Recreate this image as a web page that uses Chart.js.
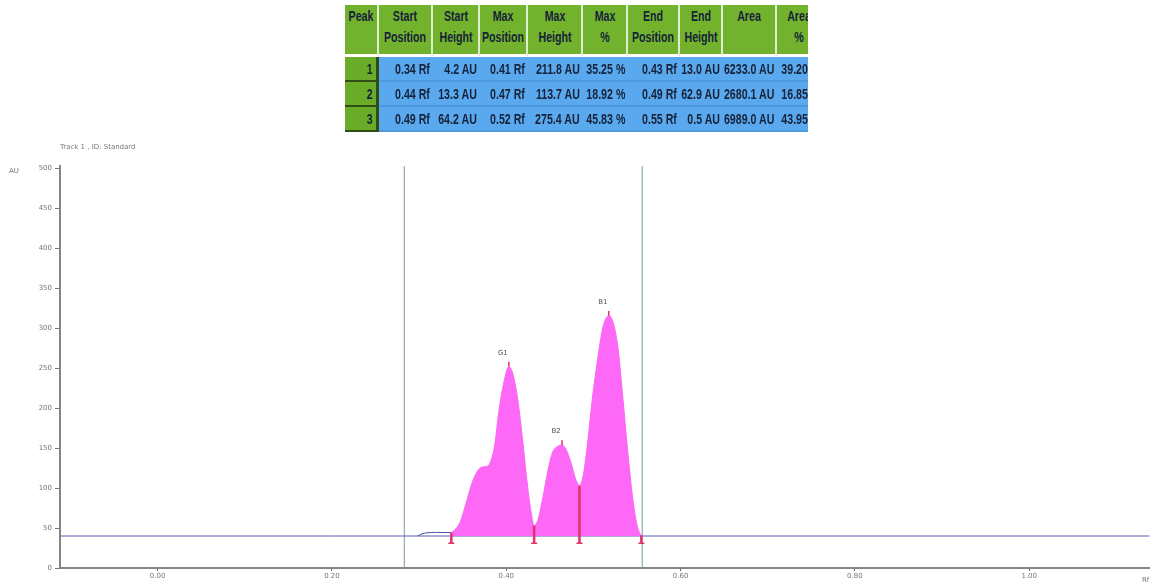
<!DOCTYPE html>
<html>
<head>
<meta charset="utf-8">
<script src="https://cdn.jsdelivr.net/npm/chart.js@4.4.1/dist/chart.umd.min.js"></script>
<style>
  html, body { margin: 0; padding: 0; background: #fff; }
  body { width: 1155px; height: 585px; position: relative; overflow: hidden; }
  #chart { position: absolute; left: 0; top: 0; }
  .lbl { position: absolute; font-family: "DejaVu Sans", sans-serif; font-size: 7px; color: #777; white-space: nowrap; }
  #tblWrap { position: absolute; left: 345px; top: 5px; width: 463px; height: 132px; overflow: hidden; }
  #peakTable { border-collapse: separate; border-spacing: 0; table-layout: fixed;
    font-family: "Liberation Sans", Arial, sans-serif;
    font-weight: bold; font-size: 14px; color: #16223a; }
  #peakTable th { background: #72b22c; height: 49px; padding: 0; position: relative;
    border-right: 2px solid #dfeecf; border-bottom: 3px solid #fff; }
  #peakTable th span { position: absolute; top: 1px; left: 50%; line-height: 21px; text-align: center;
    white-space: nowrap; transform: translateX(-50%) scaleX(0.76); }
  #peakTable td { height: 23px; padding: 0; position: relative;
    background: #5aa9ee; border-bottom: 2px solid #4d9ae0; }
  #peakTable td span { position: absolute; right: 3px; top: 4px; white-space: nowrap;
    transform: scaleX(0.76); transform-origin: right center; }
  #peakTable td.no { background: #6aac28; border-right: 3px solid #2f4d14; border-bottom: 2px solid #2f4d14; }
</style>
</head>
<body>
<canvas id="chart" width="1155" height="585"></canvas>
<div id="tblWrap"><table id="peakTable"></table></div>
<div class="lbl" style="left:60px;top:143px;">Track 1 , ID: Standard</div>
<div class="lbl" style="left:9px;top:167px;">AU</div>
<div class="lbl" style="left:1142px;top:576px;">Rf</div>
<script>
// ---- peak table ----
const tableHeaders = [["Peak"], ["Start", "Position"], ["Start", "Height"], ["Max", "Position"], ["Max", "Height"],
  ["Max", "%"], ["End", "Position"], ["End", "Height"], ["Area"], ["Area", "%"]];
const columnWidths = [34, 54, 47, 48, 55, 45, 52, 43, 54, 46];
const peakNo = [1, 2, 3];
const startPos = [0.34, 0.44, 0.49];
const startHeight = [4.2, 13.3, 64.2];
const maxPos = [0.41, 0.47, 0.52];
const maxHeight = [211.8, 113.7, 275.4];
const maxPct = [35.25, 18.92, 45.83];
const endPos = [0.43, 0.49, 0.55];
const endHeight = [13.0, 62.9, 0.5];
const area = [6233.0, 2680.1, 6989.0];
const areaPct = [39.20, 16.85, 43.95];

// ---- densitogram ----
const baselineAU = 40;
const xRange = [-0.112, 1.138];
const yRange = [0, 502.5];
const xTickValues = [0.0, 0.2, 0.4, 0.6, 0.8, 1.0];
const yTickValues = [0, 50, 100, 150, 200, 250, 300, 350, 400, 450, 500];
const cursorRf = [0.283, 0.556];

// signal before the first integrated zone
const preRf = [0.298, 0.303, 0.309, 0.320, 0.337];
const preAU = [40, 42.5, 44.0, 44.5, 44.2];

// integrated part of the track
const signalRf = [0.337, 0.343, 0.348, 0.352, 0.356, 0.360, 0.3635, 0.369, 0.374, 0.379, 0.383, 0.3865, 0.392, 0.398, 0.403,
  0.4075, 0.413, 0.419, 0.4246, 0.4297, 0.432, 0.436, 0.442, 0.4476, 0.4533, 0.459, 0.464, 0.4687, 0.4744, 0.480, 0.484,
  0.4885, 0.4935, 0.499, 0.505, 0.5107, 0.5176, 0.522, 0.528, 0.5335, 0.539, 0.545, 0.5497, 0.5525, 0.555];
const signalAU = [44.2, 50, 60, 74, 89, 104, 114, 124, 126.5, 127.5, 136, 152, 200, 236, 251.8,
  243, 212, 158, 101, 62, 53.0, 59, 88, 121, 145, 152, 153.7, 148, 131, 110, 102.9,
  117, 158, 214, 262, 300, 315.4, 309, 277, 216, 150, 88, 55, 45, 40.5];

// zone limits (start, valley, valley, end) and peak apexes
const zoneRf = [0.337, 0.432, 0.484, 0.555];
const zoneAU = [44.2, 53.0, 102.9, 40.5];
const zoneFoot = 31;
const peakNames = ["G1", "B2", "B1"];
const peakRf = [0.403, 0.464, 0.5176];
const peakAU = [251.8, 153.7, 315.4];

function fmt(v, d) { return v.toFixed(d); }

// build the table
(function () {
  const t = document.getElementById('peakTable');
  const cg = document.createElement('colgroup');
  columnWidths.forEach(w => { const c = document.createElement('col'); c.style.width = w + 'px'; cg.appendChild(c); });
  t.appendChild(cg);
  t.style.width = columnWidths.reduce((a, b) => a + b, 0) + 'px';
  const hr = document.createElement('tr');
  tableHeaders.forEach(h => {
    const th = document.createElement('th');
    const s = document.createElement('span');
    s.innerHTML = h.join('<br>');
    th.appendChild(s);
    hr.appendChild(th);
  });
  t.appendChild(hr);
  peakNo.forEach((n, i) => {
    const cells = [String(n), fmt(startPos[i], 2) + ' Rf', fmt(startHeight[i], 1) + ' AU', fmt(maxPos[i], 2) + ' Rf',
      fmt(maxHeight[i], 1) + ' AU', fmt(maxPct[i], 2) + ' %', fmt(endPos[i], 2) + ' Rf', fmt(endHeight[i], 1) + ' AU',
      fmt(area[i], 1) + ' AU', fmt(areaPct[i], 2) + ' %'];
    const tr = document.createElement('tr');
    cells.forEach((c, j) => {
      const td = document.createElement('td');
      const s = document.createElement('span');
      s.textContent = c;
      td.appendChild(s);
      if (j === 0) td.className = 'no';
      tr.appendChild(td);
    });
    t.appendChild(tr);
  });
})();

const pts = (xs, ys) => xs.map((x, i) => ({ x: x, y: ys[i] }));

// short vertical segments separated by gaps
const zoneSegs = [];
zoneRf.forEach((x, i) => { zoneSegs.push({ x: x, y: zoneAU[i] }, { x: x, y: zoneFoot }, { x: x, y: null }); });
const apexSegs = [];
peakRf.forEach((x, i) => { apexSegs.push({ x: x, y: peakAU[i] }, { x: x, y: peakAU[i] + 6 }, { x: x, y: null }); });

const peakLabels = {
  id: 'peakLabels',
  afterDatasetsDraw(chart) {
    const { ctx, scales: { x, y } } = chart;
    ctx.save();
    ctx.font = '7px "DejaVu Sans", sans-serif';
    ctx.fillStyle = '#555';
    ctx.textAlign = 'center';
    ctx.textBaseline = 'bottom';
    peakNames.forEach((n, i) => {
      ctx.fillText(n, x.getPixelForValue(peakRf[i]) - 6, y.getPixelForValue(peakAU[i]) - 10);
    });
    ctx.restore();
  }
};

new Chart(document.getElementById('chart'), {
  type: 'scatter',
  data: {
    datasets: [
      { data: zoneSegs, showLine: true, spanGaps: false, borderColor: '#e0336b', borderWidth: 2.5, pointRadius: 0, order: 1 },
      { data: apexSegs, showLine: true, spanGaps: false, borderColor: '#e0336b', borderWidth: 1.5, pointRadius: 0, order: 1 },
      { data: zoneRf.map(x => ({ x: x, y: zoneFoot })), showLine: false, pointStyle: 'line', pointRadius: 3,
        borderColor: '#e0336b', borderWidth: 1.5, order: 1 },
      { data: pts(signalRf, signalAU), showLine: true, borderColor: '#fa66f4', borderWidth: 1,
        backgroundColor: '#fd68f7', fill: { value: baselineAU }, pointRadius: 0, cubicInterpolationMode: 'monotone', order: 2 },
      { data: pts(preRf, preAU), showLine: true, borderColor: '#4b4fa8', borderWidth: 1, pointRadius: 0,
        cubicInterpolationMode: 'monotone', order: 3 },
      { data: pts(xRange, [baselineAU, baselineAU]), showLine: true, borderColor: '#5a5db5', borderWidth: 1, pointRadius: 0, order: 4 },
      { data: pts([cursorRf[0], cursorRf[0]], yRange), showLine: true, borderColor: '#7c9aa6', borderWidth: 1, pointRadius: 0, order: 5 },
      { data: pts([cursorRf[1], cursorRf[1]], yRange), showLine: true, borderColor: '#7c9aa6', borderWidth: 1, pointRadius: 0, order: 5 }
    ]
  },
  options: {
    responsive: false,
    animation: false,
    layout: { padding: { top: 166, right: 5, left: 0, bottom: 0 } },
    plugins: { legend: { display: false }, tooltip: { enabled: false }, title: { display: false } },
    scales: {
      x: {
        type: 'linear', min: xRange[0], max: xRange[1],
        afterFit: s => { s.height = 17; },
        afterBuildTicks: s => { s.ticks = xTickValues.map(v => ({ value: v })); },
        border: { color: '#858585', width: 2 },
        grid: { drawOnChartArea: false, tickLength: 3, color: '#666' },
        ticks: { font: { size: 7, family: 'DejaVu Sans' }, color: '#777', padding: 1, maxRotation: 0,
          callback: v => Number(v).toFixed(2) }
      },
      y: {
        type: 'linear', min: yRange[0], max: yRange[1],
        afterFit: s => { s.width = 60; },
        afterBuildTicks: s => { s.ticks = yTickValues.map(v => ({ value: v })); },
        border: { color: '#858585', width: 2 },
        grid: { drawOnChartArea: false, tickLength: 5, color: '#777' },
        ticks: { font: { size: 7, family: 'DejaVu Sans' }, color: '#777', padding: 3 }
      }
    }
  },
  plugins: [peakLabels]
});
</script>
</body>
</html>
